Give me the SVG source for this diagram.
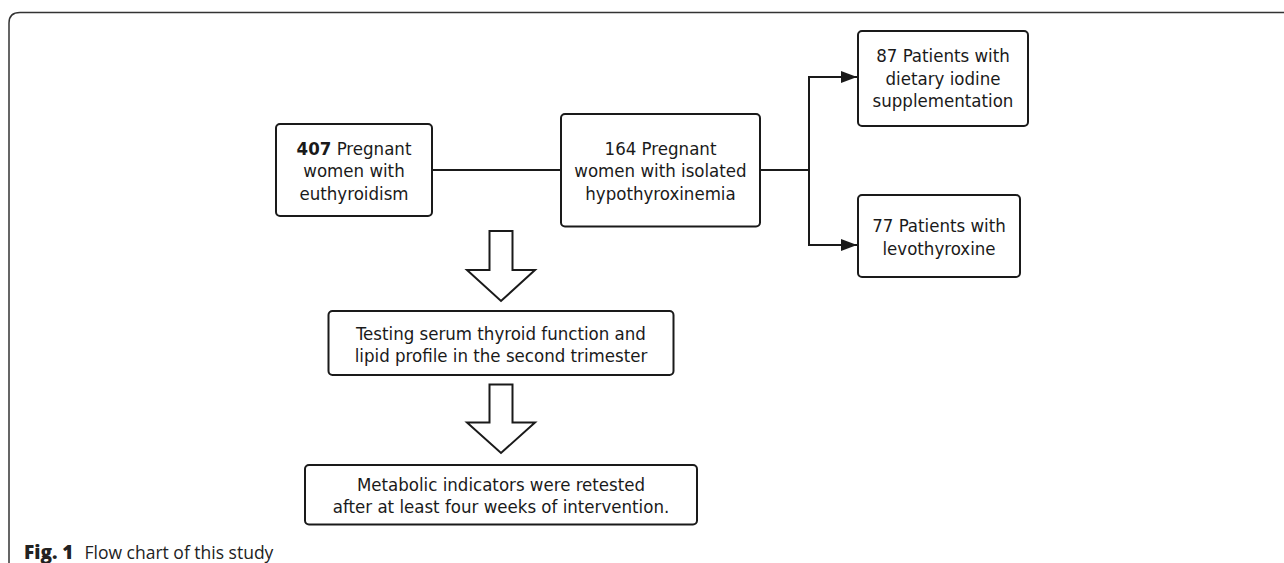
<svg xmlns="http://www.w3.org/2000/svg" width="1284" height="563" viewBox="0 0 1284 563">
<defs>
<style>
.box{fill:#fff;stroke:#1a1a1a;stroke-width:2}
.t{font-family:"DejaVu Sans Condensed","DejaVu Sans",Verdana,sans-serif;font-stretch:condensed;font-size:18.5px;fill:#1a1a1a;text-anchor:middle}
.ln{fill:none;stroke:#1a1a1a;stroke-width:2}
.hollow{fill:#fff;stroke:#1a1a1a;stroke-width:2;stroke-linejoin:miter}
.cap{font-family:"Open Sans","Liberation Sans",sans-serif;font-size:17.5px;fill:#222}
</style>
<marker id="ah" viewBox="0 0 16 12" refX="16" refY="6" markerWidth="16" markerHeight="12" markerUnits="userSpaceOnUse" orient="auto">
<path d="M0,0 L16,6 L0,12 Z" fill="#1a1a1a"/>
</marker>
</defs>
<rect width="1284" height="563" fill="#fff"/>
<path d="M9,563 V23 Q9,12.5 20,12.5 H1284" fill="none" stroke="#333" stroke-width="1.5"/>

<g id="connectors">
<line class="ln" x1="432" y1="170" x2="561" y2="170"/>
<line class="ln" x1="760" y1="170" x2="809" y2="170"/>
<line class="ln" x1="809" y1="76.5" x2="809" y2="245"/>
<line class="ln" x1="808" y1="77" x2="857" y2="77" marker-end="url(#ah)"/>
<line class="ln" x1="808" y1="245" x2="857" y2="245" marker-end="url(#ah)"/>
<path class="hollow" d="M489.5,231 H512.5 V270 H535 L501,301 L467,270 H489.5 Z"/>
<path class="hollow" d="M489.5,384.5 H512.5 V422.5 H535 L501,453 L467,422.5 H489.5 Z"/>
</g>

<g id="n407">
<rect class="box" x="276" y="124" width="156" height="92" rx="4"/>
<text class="t" x="354" y="154.5"><tspan font-weight="bold">407</tspan> Pregnant</text>
<text class="t" x="354" y="176.5">women with</text>
<text class="t" x="354" y="199.5">euthyroidism</text>
</g>

<g id="n164">
<rect class="box" x="561" y="114" width="199" height="112.5" rx="4"/>
<text class="t" x="660.5" y="154.5">164 Pregnant</text>
<text class="t" x="660.5" y="176.5">women with isolated</text>
<text class="t" x="660.5" y="199.5">hypothyroxinemia</text>
</g>

<g id="n87">
<rect class="box" x="858" y="31" width="170" height="95" rx="4"/>
<text class="t" x="943" y="61.5">87 Patients with</text>
<text class="t" x="943" y="84.5">dietary iodine</text>
<text class="t" x="943" y="107">supplementation</text>
</g>

<g id="n77">
<rect class="box" x="858" y="195" width="162" height="82" rx="4"/>
<text class="t" x="939" y="231.5">77 Patients with</text>
<text class="t" x="939" y="254.5">levothyroxine</text>
</g>

<g id="ntest">
<rect class="box" x="328.5" y="311" width="345" height="64" rx="4"/>
<text class="t" x="501" y="339.5">Testing serum thyroid function and</text>
<text class="t" x="501" y="361.5">lipid profile in the second trimester</text>
</g>

<g id="nretest">
<rect class="box" x="305" y="465" width="392" height="59.5" rx="4"/>
<text class="t" x="501" y="490.5">Metabolic indicators were retested</text>
<text class="t" x="501" y="513">after at least four weeks of intervention.</text>
</g>

<text class="cap" x="24" y="559"><tspan font-weight="800" font-size="19">Fig. 1</tspan><tspan dx="11">Flow chart of this study</tspan></text>
</svg>
